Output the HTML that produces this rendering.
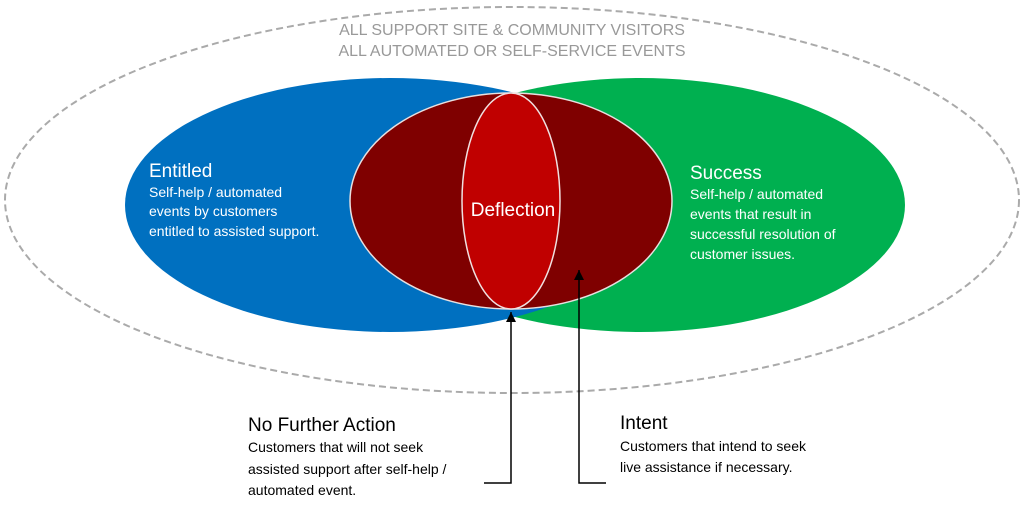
<!DOCTYPE html>
<html><head><style>body{margin:0;background:#fff}</style></head><body>
<svg width="1024" height="506" viewBox="0 0 1024 506" xmlns="http://www.w3.org/2000/svg" font-family="Liberation Sans, sans-serif">
<defs><marker id="a" markerWidth="10" markerHeight="10" refX="10" refY="5" orient="auto" markerUnits="userSpaceOnUse"><path d="M0,0 L10,5 L0,10 Z" fill="#000"/></marker></defs>
<ellipse cx="512" cy="200" rx="507" ry="193" fill="none" stroke="#aaa" stroke-width="2" stroke-dasharray="7,4"/>
<text x="512" y="35" text-anchor="middle" font-size="16" fill="#999">ALL SUPPORT SITE &amp; COMMUNITY VISITORS</text>
<text x="512" y="56" text-anchor="middle" font-size="16" fill="#999">ALL AUTOMATED OR SELF-SERVICE EVENTS</text>
<ellipse cx="640" cy="205" rx="265" ry="127" fill="#00b050"/>
<ellipse cx="390" cy="205" rx="265" ry="127" fill="#0070c0"/>
<ellipse cx="511" cy="201" rx="161" ry="108" fill="#7f0000" stroke="#e8e0e0" stroke-width="1.5"/>
<ellipse cx="511" cy="201" rx="49" ry="108" fill="#c00000" stroke="#f0e0e0" stroke-width="1.5"/>
<text x="513" y="216" text-anchor="middle" font-size="19" fill="#fff">Deflection</text>
<g fill="#fff">
<text x="149" y="177" font-size="19">Entitled</text>
<text x="149" y="197" font-size="14">Self-help / automated</text>
<text x="149" y="216" font-size="14">events by customers</text>
<text x="149" y="236" font-size="14">entitled to assisted support.</text>
<text x="690" y="179" font-size="19">Success</text>
<text x="690" y="199" font-size="14">Self-help / automated</text>
<text x="690" y="219" font-size="14">events that result in</text>
<text x="690" y="239" font-size="14">successful resolution of</text>
<text x="690" y="259" font-size="14">customer issues.</text>
</g>
<polyline points="484,483 511,483 511,312" fill="none" stroke="#000" stroke-width="1.5" marker-end="url(#a)"/>
<polyline points="606,483 579,483 579,270" fill="none" stroke="#000" stroke-width="1.5" marker-end="url(#a)"/>
<g fill="#000">
<text x="248" y="431" font-size="19">No Further Action</text>
<text x="248" y="452" font-size="14">Customers that will  not seek</text>
<text x="248" y="474" font-size="14">assisted support after self-help /</text>
<text x="248" y="495" font-size="14">automated event.</text>
<text x="620" y="429" font-size="19">Intent</text>
<text x="620" y="451" font-size="14">Customers that intend to seek</text>
<text x="620" y="472" font-size="14">live assistance if necessary.</text>
</g>
</svg>
</body></html>
